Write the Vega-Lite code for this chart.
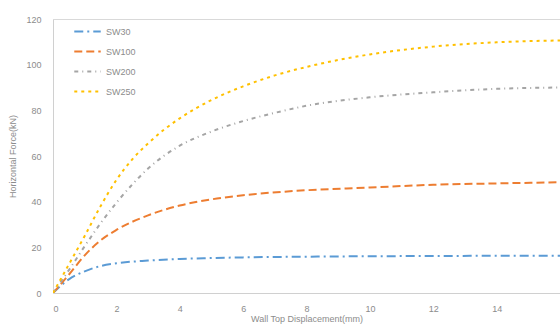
{
  "$schema": "https://vega.github.io/schema/vega-lite/v6.json",
  "width": 507,
  "height": 274,
  "autosize": {"type": "none"},
  "padding": {"left": 53, "top": 19, "right": 0, "bottom": 34},
  "background": "white",
  "config": {
    "view": {"stroke": "#d9d9d9", "strokeWidth": 1},
    "font": "Liberation Sans"
  },
  "data": {
    "values": [
      {"d": 0, "f": 0, "s": "SW30"},
      {"d": 0.5, "f": 6, "s": "SW30"},
      {"d": 1, "f": 9.5, "s": "SW30"},
      {"d": 1.5, "f": 11.8, "s": "SW30"},
      {"d": 2, "f": 13, "s": "SW30"},
      {"d": 3, "f": 14.2, "s": "SW30"},
      {"d": 4, "f": 14.9, "s": "SW30"},
      {"d": 5, "f": 15.3, "s": "SW30"},
      {"d": 6, "f": 15.6, "s": "SW30"},
      {"d": 8, "f": 15.9, "s": "SW30"},
      {"d": 10, "f": 16.1, "s": "SW30"},
      {"d": 12, "f": 16.2, "s": "SW30"},
      {"d": 14, "f": 16.3, "s": "SW30"},
      {"d": 16, "f": 16.3, "s": "SW30"},

      {"d": 0, "f": 0, "s": "SW100"},
      {"d": 0.5, "f": 8, "s": "SW100"},
      {"d": 1, "f": 16.5, "s": "SW100"},
      {"d": 1.5, "f": 23, "s": "SW100"},
      {"d": 2, "f": 27.6, "s": "SW100"},
      {"d": 3, "f": 34, "s": "SW100"},
      {"d": 4, "f": 38.3, "s": "SW100"},
      {"d": 5, "f": 41, "s": "SW100"},
      {"d": 6, "f": 42.8, "s": "SW100"},
      {"d": 8, "f": 45, "s": "SW100"},
      {"d": 10, "f": 46.2, "s": "SW100"},
      {"d": 12, "f": 47.4, "s": "SW100"},
      {"d": 14, "f": 48, "s": "SW100"},
      {"d": 16, "f": 48.5, "s": "SW100"},

      {"d": 0, "f": 0, "s": "SW200"},
      {"d": 0.5, "f": 10, "s": "SW200"},
      {"d": 1, "f": 20.5, "s": "SW200"},
      {"d": 1.5, "f": 30.5, "s": "SW200"},
      {"d": 2, "f": 39.5, "s": "SW200"},
      {"d": 2.5, "f": 47.5, "s": "SW200"},
      {"d": 3, "f": 54.5, "s": "SW200"},
      {"d": 4, "f": 64.5, "s": "SW200"},
      {"d": 5, "f": 70.7, "s": "SW200"},
      {"d": 6, "f": 75.3, "s": "SW200"},
      {"d": 7, "f": 78.9, "s": "SW200"},
      {"d": 8, "f": 82, "s": "SW200"},
      {"d": 10, "f": 85.7, "s": "SW200"},
      {"d": 12, "f": 87.9, "s": "SW200"},
      {"d": 14, "f": 89.4, "s": "SW200"},
      {"d": 16, "f": 90, "s": "SW200"},

      {"d": 0, "f": 0, "s": "SW250"},
      {"d": 0.5, "f": 12.5, "s": "SW250"},
      {"d": 1, "f": 25, "s": "SW250"},
      {"d": 1.5, "f": 38, "s": "SW250"},
      {"d": 2, "f": 49.5, "s": "SW250"},
      {"d": 2.5, "f": 58.5, "s": "SW250"},
      {"d": 3, "f": 65.5, "s": "SW250"},
      {"d": 3.5, "f": 71.5, "s": "SW250"},
      {"d": 4, "f": 76.5, "s": "SW250"},
      {"d": 5, "f": 84.5, "s": "SW250"},
      {"d": 6, "f": 90.5, "s": "SW250"},
      {"d": 7, "f": 95.3, "s": "SW250"},
      {"d": 8, "f": 99, "s": "SW250"},
      {"d": 10, "f": 104.5, "s": "SW250"},
      {"d": 12, "f": 107.9, "s": "SW250"},
      {"d": 14, "f": 109.8, "s": "SW250"},
      {"d": 16, "f": 110.6, "s": "SW250"}
    ]
  },
  "mark": {"type": "line", "strokeWidth": 2, "interpolate": "monotone", "clip": true},
  "encoding": {
    "x": {
      "field": "d",
      "type": "quantitative",
      "scale": {"domain": [0, 16], "nice": false},
      "axis": {
        "title": "Wall Top Displacement(mm)",
        "values": [0, 2, 4, 6, 8, 10, 12, 14],
        "grid": false,
        "ticks": false,
        "domainColor": "#d0d0d0",
        "labelColor": "#8c8c8c",
        "labelFontSize": 9,
        "labelPadding": 11,
        "titleColor": "#8c8c8c",
        "titleFontSize": 9,
        "titleFontWeight": "normal",
        "titlePadding": 1
      }
    },
    "y": {
      "field": "f",
      "type": "quantitative",
      "scale": {"domain": [0, 120], "nice": false},
      "axis": {
        "title": "Horizontal Force(kN)",
        "values": [0, 20, 40, 60, 80, 100, 120],
        "grid": false,
        "ticks": false,
        "domainColor": "#d0d0d0",
        "labelColor": "#8c8c8c",
        "labelFontSize": 9,
        "labelPadding": 12,
        "titleColor": "#8c8c8c",
        "titleFontSize": 9,
        "titleFontWeight": "normal",
        "titlePadding": 8
      }
    },
    "color": {
      "field": "s",
      "type": "nominal",
      "sort": ["SW30", "SW100", "SW200", "SW250"],
      "scale": {
        "domain": ["SW30", "SW100", "SW200", "SW250"],
        "range": ["#5b9bd5", "#ed7d31", "#a5a5a5", "#ffc000"]
      },
      "legend": {
        "title": null,
        "orient": "none",
        "legendX": 20,
        "legendY": -2,
        "symbolType": "stroke",
        "symbolSize": 700,
        "symbolStrokeWidth": 2,
        "labelColor": "#8c8c8c",
        "labelFontSize": 9,
        "labelOffset": 4,
        "rowPadding": 0
      }
    },
    "strokeDash": {
      "field": "s",
      "type": "nominal",
      "sort": ["SW30", "SW100", "SW200", "SW250"],
      "scale": {
        "domain": ["SW30", "SW100", "SW200", "SW250"],
        "range": [[9, 4, 2, 4], [8, 4], [4, 4, 1, 4], [3, 4]]
      },
      "legend": null
    }
  }
}
